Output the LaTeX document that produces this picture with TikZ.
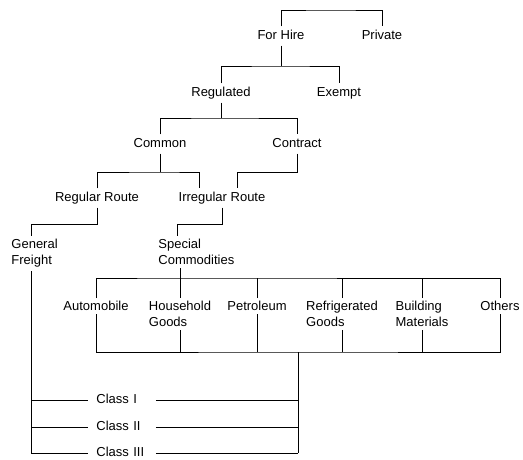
\documentclass[tikz,border=0pt]{standalone}
\usepackage{fontspec}
\setmainfont{Liberation Sans}
\usetikzlibrary{positioning}

\begin{document}
\begin{tikzpicture}[
    x=1pt, y=-1pt,
    line width=0.9pt,
    lbl/.style={inner sep=3pt, text height=9.5pt, text depth=3pt, font=\fontsize{13}{16}\selectfont},
    lbltwo/.style={inner sep=3pt, font=\fontsize{13}{16}\selectfont, align=left, anchor=north west},
    com/.style={inner sep=3pt, font=\fontsize{13}{16}\selectfont, align=left, anchor=north},
    cls/.style={lbl, anchor=west, text width=51pt, inner xsep=8pt, align=left}
]
    \useasboundingbox (0,0) rectangle (523,460);

    \node[lbl] (forhire) at (281,36) {For Hire};
    \node[lbl] (private) at (382,36) {Private};
    \node[lbl] (regulated) at (221,93) {Regulated};
    \node[lbl] (exempt) at (339,93) {Exempt};
    \node[lbl] (common) at (160,144) {Common};
    \node[lbl] (contract) at (297,144) {Contract};
    \node[lbl] (regular) at (97,198) {Regular Route};
    \node[lbl] (irregular) at (222,198) {Irregular Route};
    \node[lbltwo] (freight) at (8,236) {General\\Freight};
    \node[lbltwo] (special) at (155,236) {Special\\Commodities};

    \node[com] (auto) at (96,298) {Automobile};
    \node[com] (house) at (180,298) {Household\\Goods};
    \node[com] (petrol) at (257,298) {Petroleum};
    \node[com] (refrig) at (342,298) {Refrigerated\\Goods};
    \node[com] (build) at (422,298) {Building\\Materials};
    \node[com] (others) at (500,298) {Others};

    \node[cls] (class1) at (88,400) {Class I};
    \node[cls] (class2) at (88,427) {Class II};
    \node[cls] (class3) at (88,453) {Class III};

    % junction levels
    \coordinate (bar0) at (330,10);
    \coordinate (bar1) at (281,66);
    \coordinate (bar2) at (221,118);
    \coordinate (bar3) at (160,172);
    \coordinate (bar4) at (0,224);
    \coordinate (bar5) at (177,278);
    \coordinate (bar6) at (298,352);
    \coordinate (fstem) at ([xshift=23pt]freight.south west);

    \draw (forhire.north) |- (bar0) -| (private.north);
    \draw (forhire.south) -- (bar1);
    \draw (regulated.north) |- (bar1) -| (exempt.north);
    \draw (regulated.south) -- (bar2);
    \draw (common.north) |- (bar2) -| (contract.north);
    \draw (common.south) -- (bar3);
    \draw (regular.north) |- (bar3) -| ([xshift=-23pt]irregular.north);
    \draw (contract.south) -- (contract.south |- bar3) -| ([xshift=15pt]irregular.north);
    \draw (regular.south) -- (regular.south |- bar4) -| ([xshift=23pt]freight.north west);
    \draw (irregular.south) -- (irregular.south |- bar4) -| ([xshift=22pt]special.north west);

    \draw (house.north |- special.south) -- (house.north);
    \draw (auto.north) |- (bar5) -| (others.north);
    \foreach \n in {petrol, refrig, build}
        \draw (\n.north) -- (\n.north |- bar5);
    \draw (auto.south) |- (bar6) -| (others.south);
    \foreach \n in {house, petrol, refrig, build}
        \draw (\n.south) -- (\n.south |- bar6);

    \draw (fstem) -- (fstem |- class3.west);
    \draw (bar6) -- (bar6 |- class3.east);
    \foreach \c in {class1, class2, class3} {
        \draw (fstem |- \c.west) -- (\c.west);
        \draw (\c.east) -- (\c.east -| bar6);
    }
\end{tikzpicture}
\end{document}
